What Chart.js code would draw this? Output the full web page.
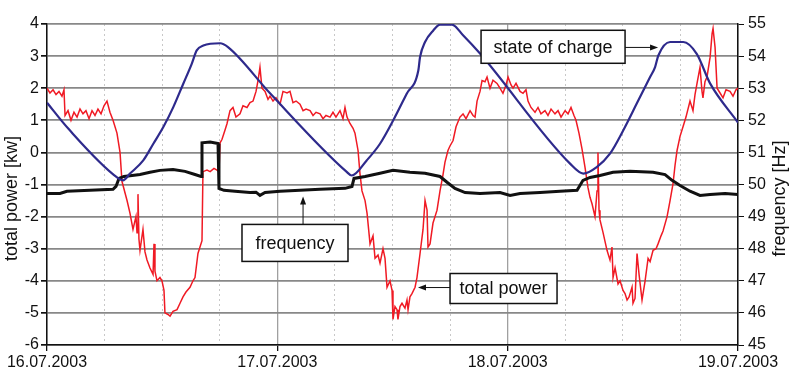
<!DOCTYPE html>
<html>
<head>
<meta charset="utf-8">
<script src="https://cdn.jsdelivr.net/npm/chart.js@4.4.1/dist/chart.umd.min.js"></script>
<style>
  body { margin: 0; background: #fff; }
  #wrap { width: 800px; height: 374px; }
</style>
</head>
<body>
<div id="wrap"><canvas id="chart" width="800" height="374"></canvas></div>
<script>
// hours since 16.07.2003 00:00
const dayLabels = ['16.07.2003', '17.07.2003', '18.07.2003', '19.07.2003'];

// total power [kW] : [hour, kW]
const powerSeries = [
  [0, 2.0], [0.31, 1.85], [0.63, 1.95], [0.94, 1.8], [1.25, 1.9], [1.56, 1.75], [1.77, 1.95], [1.88, 1.15],
  [2.19, 1.3], [2.5, 1.0], [2.81, 1.25], [3.13, 1.1], [3.44, 1.35], [3.75, 1.2], [4.06, 1.3], [4.38, 1.05],
  [4.69, 1.3], [5.0, 1.15], [5.31, 1.35], [5.63, 1.2], [5.94, 1.45], [6.25, 1.6], [6.56, 1.25], [6.88, 1.0],
  [7.29, 0.6], [7.61, 0.0], [7.81, -0.9], [8.34, -1.5], [8.65, -1.9], [8.96, -2.4], [9.27, -2.0], [9.38, -2.5],
  [9.48, -1.3], [9.58, -2.7], [9.69, -3.05], [10.0, -2.4], [10.21, -3.1], [10.42, -3.35], [10.73, -3.6],
  [11.05, -3.8], [11.15, -2.85], [11.25, -3.7], [11.46, -4.0], [11.77, -3.9], [11.98, -4.0], [12.19, -4.3],
  [12.29, -5.0], [12.61, -5.05], [12.82, -5.1], [13.13, -4.95], [13.55, -4.9], [13.86, -4.7], [14.17, -4.5],
  [14.48, -4.35], [14.9, -4.2], [15.21, -4.0], [15.42, -3.9], [15.73, -3.15], [15.94, -2.95], [16.15, -2.75],
  [16.25, -0.6], [16.67, -0.55], [17.0, -0.6], [17.4, -0.5], [17.71, -0.55], [17.92, -0.6], [18.03, 0.3],
  [18.23, 0.4], [18.55, 0.7], [18.76, 0.9], [19.07, 1.3], [19.38, 1.4], [19.69, 1.1], [20.11, 1.2],
  [20.42, 1.45], [20.84, 1.4], [21.15, 1.55], [21.47, 1.6], [21.78, 1.9], [21.99, 2.24], [22.19, 2.65],
  [22.4, 2.0], [22.72, 1.9], [23.03, 1.65], [23.24, 1.75], [23.55, 1.6], [23.86, 1.7], [24.28, 1.5],
  [24.59, 1.9], [25.01, 1.85], [25.32, 1.9], [25.63, 1.55], [25.95, 1.6], [26.36, 1.5], [26.68, 1.3],
  [26.99, 1.35], [27.41, 1.3], [27.72, 1.15], [28.03, 1.25], [28.45, 1.2], [28.76, 1.05], [29.07, 1.15],
  [29.49, 1.1], [29.8, 1.25], [30.11, 1.1], [30.53, 1.3], [30.84, 1.05], [31.05, 1.4], [31.26, 1.1],
  [31.57, 0.9], [31.89, 0.75], [32.09, 0.6], [32.41, 0.06], [32.61, -0.66], [32.82, -1.2], [33.14, -1.5],
  [33.35, -1.9], [33.66, -2.85], [33.97, -2.6], [34.18, -3.3], [34.49, -3.2], [34.7, -3.45], [35.01, -3.0],
  [35.22, -3.3], [35.43, -4.2], [35.74, -4.0], [35.95, -4.3], [36.05, -5.2], [36.26, -4.8], [36.47, -4.9],
  [36.57, -5.2], [36.78, -4.8], [36.99, -4.7], [37.3, -4.85], [37.51, -4.6], [37.62, -4.9], [37.82, -4.5],
  [38.03, -4.4], [38.35, -4.2], [38.55, -3.9], [38.87, -3.15], [39.18, -2.4], [39.39, -1.5], [39.6, -1.8],
  [39.7, -2.95], [39.91, -2.85], [40.22, -2.2], [40.64, -1.8], [40.95, -1.2], [41.26, -0.7], [41.47, -0.3],
  [41.78, 0.06], [41.99, 0.2], [42.31, 0.37], [42.62, 0.8], [43.03, 1.1], [43.35, 1.2], [43.66, 1.05],
  [44.08, 1.3], [44.39, 1.15], [44.6, 1.1], [44.81, 1.6], [45.12, 1.9], [45.33, 2.24], [45.64, 2.2],
  [45.85, 2.35], [46.16, 2.0], [46.47, 2.25], [46.89, 2.15], [47.2, 2.0], [47.51, 1.84], [47.83, 2.1],
  [48.04, 2.35], [48.35, 2.1], [48.56, 2.0], [48.87, 2.15], [49.29, 1.9], [49.6, 1.84], [49.91, 1.95],
  [50.12, 1.6], [50.43, 1.4], [50.85, 1.25], [51.16, 1.4], [51.47, 1.2], [51.89, 1.3], [52.2, 1.15],
  [52.52, 1.35], [52.93, 1.2], [53.25, 1.3], [53.56, 1.1], [53.98, 1.3], [54.29, 1.2], [54.6, 1.4],
  [54.91, 1.15], [55.12, 1.0], [55.43, 0.6], [55.75, 0.1], [56.06, -0.47], [56.37, -1.1], [56.58, -1.4],
  [56.79, -1.6], [57.1, -2.0], [57.31, -1.2], [57.41, 0.0], [57.52, -1.8], [57.62, -2.1], [57.94, -2.5],
  [58.35, -3.05], [58.66, -3.35], [58.87, -2.95], [58.98, -3.9], [59.19, -3.6], [59.5, -4.1], [59.71, -4.0],
  [60.02, -4.3], [60.23, -4.4], [60.44, -4.6], [60.65, -4.5], [60.96, -4.2], [61.06, -4.7], [61.27, -4.55],
  [61.48, -3.15], [61.69, -3.8], [62.0, -4.6], [62.32, -4.0], [62.63, -3.3], [62.84, -3.4], [63.15, -3.05],
  [63.46, -3.0], [63.67, -2.85], [63.98, -2.6], [64.19, -2.45], [64.61, -2.0], [64.92, -1.5], [65.23, -0.97],
  [65.44, -0.4], [65.65, 0.06], [65.96, 0.5], [66.27, 0.8], [66.58, 1.1], [67.0, 1.6], [67.31, 1.3],
  [67.52, 1.8], [67.73, 2.15], [68.04, 2.65], [68.25, 1.9], [68.35, 1.7], [68.56, 2.2], [68.77, 2.35],
  [69.09, 2.96], [69.3, 3.7], [69.4, 3.86], [69.61, 3.27], [69.82, 2.0], [70.13, 1.85], [70.44, 1.7],
  [70.75, 1.95], [71.17, 1.9], [71.48, 1.75], [71.79, 1.95], [72.0, 2.0]
];

// state of charge, drawn against the left scale : [hour, value]
const chargeSeries = [
  [0, 1.55], [2.19, 0.75], [7.4, -0.8], [7.92, -0.87], [8.65, -0.66], [10.03, -0.25], [11.08, 0.27],
  [12.12, 0.79], [13.16, 1.41], [14.2, 2.14], [15.08, 2.76], [15.6, 3.18], [16.29, 3.33], [18.03, 3.4],
  [18.86, 3.28], [23.24, 1.84], [31.2, -0.6], [31.75, -0.72], [33.31, -0.25], [34.7, 0.27], [36.08, 1.0],
  [37.48, 1.83], [38.69, 2.55], [38.87, 2.97], [39.39, 3.44], [40.25, 3.8], [40.95, 3.98], [42.2, 3.98],
  [43.35, 3.65], [45.12, 3.08], [54.5, -0.35], [55.88, -0.66], [57.28, -0.46], [58.66, -0.04], [60.05, 0.69],
  [61.45, 1.52], [62.84, 2.35], [63.36, 2.66], [63.7, 3.02], [64.92, 3.44], [66.3, 3.44], [67.7, 3.07],
  [69.09, 2.15], [72, 0.93]
];

// frequency [Hz] : [hour, Hz]
const frequencySeries = [
  [0, 49.72], [1.35, 49.72], [2.08, 49.79], [4.48, 49.82], [6.88, 49.85], [7.19, 49.94], [7.5, 50.19],
  [8.02, 50.25], [8.86, 50.28], [9.69, 50.31], [10.73, 50.38], [11.77, 50.44], [13.13, 50.47],
  [14.38, 50.41], [15.42, 50.31], [16.05, 50.25], [16.15, 51.3], [17.0, 51.32], [17.82, 51.28],
  [17.92, 49.88], [18.44, 49.82], [19.59, 49.79], [21.15, 49.75], [21.78, 49.76], [22.19, 49.66],
  [22.72, 49.75], [24.28, 49.79], [26.36, 49.82], [28.45, 49.85], [31.05, 49.88], [31.78, 49.94],
  [31.99, 50.19], [33.14, 50.25], [34.7, 50.35], [36.05, 50.44], [37.82, 50.38], [39.39, 50.35],
  [40.95, 50.25], [41.68, 50.07], [42.51, 49.88], [43.56, 49.75], [45.12, 49.72], [47.2, 49.75],
  [48.25, 49.66], [49.29, 49.72], [51.37, 49.75], [53.46, 49.79], [55.23, 49.82], [55.85, 50.13],
  [56.58, 50.22], [57.62, 50.28], [58.98, 50.38], [60.75, 50.41], [63.15, 50.38], [64.4, 50.31],
  [65.13, 50.13], [65.96, 49.97], [67.0, 49.79], [68.04, 49.66], [69.09, 49.69], [70.65, 49.72], [72, 49.69]
];

// callout boxes (centre and arrow given in hour / kW)
const callouts = [
  { text: 'state of charge', at: [52.73, 3.29], w: 144, h: 33, from: [60.23, 3.27], to: [63.67, 3.27] },
  { text: 'frequency', at: [25.84, -2.82], w: 106, h: 37, from: [26.68, -2.24], to: [26.68, -1.37] },
  { text: 'total power', at: [47.57, -4.24], w: 107, h: 30, from: [41.99, -4.21], to: [38.66, -4.21] }
];

const FONT = '"Liberation Sans", Arial, sans-serif';
const toXY = arr => arr.map(p => ({ x: p[0], y: p[1] }));
const isInt = v => Math.abs(v - Math.round(v)) < 1e-6;

const overlay = {
  id: 'overlay',
  afterDraw(chart) {
    const { ctx, chartArea, scales } = chart;
    ctx.save();
    ctx.fillStyle = '#111';
    ctx.textAlign = 'center';
    ctx.textBaseline = 'middle';
    ctx.font = '18px ' + FONT;

    // axis titles, both read bottom to top
    const midY = (chartArea.top + chartArea.bottom) / 2 + 14;
    [[12, 'total power [kw]'], [chart.width - 20, 'frequency [Hz]']].forEach(([x, t]) => {
      ctx.save();
      ctx.translate(x, midY);
      ctx.rotate(-Math.PI / 2);
      ctx.fillText(t, 0, 0);
      ctx.restore();
    });

    callouts.forEach(c => {
      const cx = scales.x.getPixelForValue(c.at[0]);
      const cy = scales.y.getPixelForValue(c.at[1]);
      ctx.fillStyle = '#fff';
      ctx.strokeStyle = '#111';
      ctx.lineWidth = 1.5;
      ctx.fillRect(cx - c.w / 2, cy - c.h / 2, c.w, c.h);
      ctx.strokeRect(cx - c.w / 2, cy - c.h / 2, c.w, c.h);
      ctx.fillStyle = '#111';
      ctx.fillText(c.text, cx, cy + 1);

      const x1 = scales.x.getPixelForValue(c.from[0]), y1 = scales.y.getPixelForValue(c.from[1]);
      const x2 = scales.x.getPixelForValue(c.to[0]), y2 = scales.y.getPixelForValue(c.to[1]);
      const ang = Math.atan2(y2 - y1, x2 - x1);
      ctx.lineWidth = 1;
      ctx.beginPath();
      ctx.moveTo(x1, y1);
      ctx.lineTo(x2 - 5 * Math.cos(ang), y2 - 5 * Math.sin(ang));
      ctx.stroke();
      ctx.beginPath();
      ctx.moveTo(x2, y2);
      ctx.lineTo(x2 - 8 * Math.cos(ang) + 3 * Math.sin(ang), y2 - 8 * Math.sin(ang) - 3 * Math.cos(ang));
      ctx.lineTo(x2 - 8 * Math.cos(ang) - 3 * Math.sin(ang), y2 - 8 * Math.sin(ang) + 3 * Math.cos(ang));
      ctx.closePath();
      ctx.fill();
    });
    ctx.restore();
  }
};

new Chart(document.getElementById('chart'), {
  type: 'line',
  data: {
    datasets: [
      { label: 'state of charge', data: toXY(chargeSeries), yAxisID: 'y', borderColor: '#2e2a8c', borderWidth: 2.2,
        pointRadius: 0, cubicInterpolationMode: 'monotone', order: 1 },
      { label: 'frequency', data: toXY(frequencySeries), yAxisID: 'y2', borderColor: '#111', borderWidth: 3, pointRadius: 0, order: 2 },
      { label: 'total power', data: toXY(powerSeries), yAxisID: 'y', borderColor: '#f01a24', borderWidth: 1.5, pointRadius: 0, order: 3 }
    ]
  },
  options: {
    responsive: false,
    animation: false,
    devicePixelRatio: 1,
    layout: { padding: { top: 24, left: 0, right: 0, bottom: 0 } },
    plugins: { legend: { display: false }, tooltip: { enabled: false } },
    scales: {
      x: {
        type: 'linear', min: 0, max: 72,
        afterFit: s => { s.height = 29; },
        ticks: {
          stepSize: 6, autoSkip: false, maxRotation: 0, padding: 2,
          color: '#111', font: { family: FONT, size: 16 },
          callback: v => (v % 24 === 0 ? dayLabels[v / 24] : '')
        },
        grid: {
          color: c => (c.tick && c.tick.value % 24 === 0 ? '#a0a0a0' : '#c8c8c8'),
          lineWidth: c => (c.tick && c.tick.value % 24 === 0 ? 1.3 : 1),
          tickColor: c => (c.tick && c.tick.value % 24 === 0 ? '#111' : 'rgba(0,0,0,0)'),
          tickLength: 6
        },
        border: { color: '#111', width: 1.5, dash: c => (c.tick && c.tick.value % 24 !== 0 ? [2, 3] : []) }
      },
      y: {
        position: 'left', min: -6, max: 4,
        afterFit: s => { s.width = 47; },
        ticks: {
          stepSize: 0.5, padding: 2, color: '#111', font: { family: FONT, size: 16 },
          callback: v => (isInt(v) ? v : '')
        },
        grid: {
          color: c => (c.tick && isInt(c.tick.value) ? '#888888' : '#c4c4c4'),
          lineWidth: c => (c.tick && isInt(c.tick.value) ? 1.7 : 1),
          tickColor: c => (c.tick && isInt(c.tick.value) ? '#111' : 'rgba(0,0,0,0)'),
          tickLength: 6
        },
        border: { color: '#111', width: 1.5, dash: c => (c.tick && !isInt(c.tick.value) ? [2, 3] : []) }
      },
      y2: {
        position: 'right', min: 45, max: 55,
        afterFit: s => { s.width = 62; },
        ticks: { stepSize: 1, padding: 4, color: '#111', font: { family: FONT, size: 16 } },
        grid: { drawOnChartArea: false, tickColor: '#111', tickLength: 6 },
        border: { color: '#111', width: 1.5 }
      }
    }
  },
  plugins: [overlay]
});
</script>
</body>
</html>
